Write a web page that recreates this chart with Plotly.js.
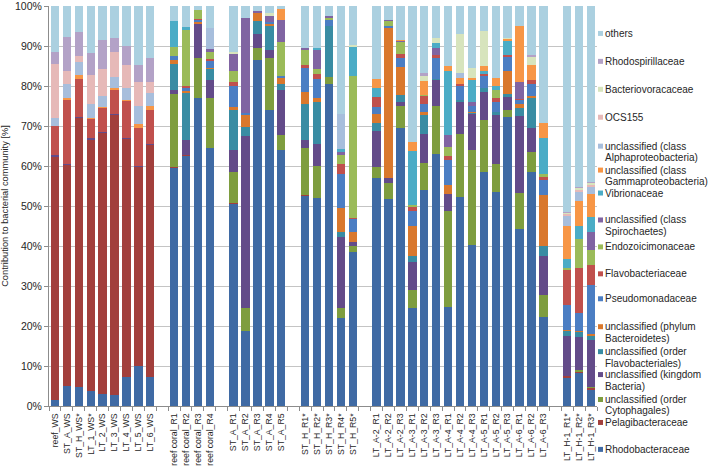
<!DOCTYPE html>
<html>
<head>
<meta charset="utf-8">
<script src="https://cdn.plot.ly/plotly-3.0.1.min.js"></script>
<style>html,body{margin:0;padding:0;background:#fff;}#chart{width:709px;height:470px;}</style>
</head>
<body>
<div id="chart"></div>
<script>
// ---- categories (groups separated by an empty slot on the axis) ----
const groupWS = ["reef_WS","ST_A_WS","ST_H_WS*","LT_1_WS*","LT_2_WS","LT_3_WS","LT_4_WS","LT_5_WS","LT_6_WS"];
const groupCoral = ["reef coral_R1","reef coral_R2","reef coral_R3","reef coral_R4"];
const groupSTA = ["ST_A_R1","ST_A_R2","ST_A_R3","ST_A_R4","ST_A_R5"];
const groupSTH = ["ST_H_R1*","ST_H_R2*","ST_H_R3*","ST_H_R4*","ST_H_R5*"];
const groupLTA = ["LT_A-2_R1","LT_A-2_R2","LT_A-2_R3","LT_A-3_R1","LT_A-3_R2","LT_A-3_R3","LT_A-4_R1","LT_A-4_R2","LT_A-4_R3","LT_A-5_R1","LT_A-5_R2","LT_A-5_R3","LT_A-6_R1","LT_A-6_R2","LT_A-6_R3"];
const groupLTH = ["LT_H-1_R1*","LT_H-1_R2*","LT_H-1_R3*"];

// ---- series (bottom of stack first), values in % per sample ----
const seriesNames = ["Rhodobacteraceae","Pelagibacteraceae","unclassified (order Cytophagales)","unclassified (kingdom Bacteria)","unclassified (order Flavobacteriales)","unclassified (phylum Bacteroidetes)","Pseudomonadaceae","Flavobacteriaceae","Endozoicimonaceae","unclassified (class Spirochaetes)","Vibrionaceae","unclassified (class Gammaproteobacteria)","unclassified (class Alphaproteobacteria)","OCS155","Bacteriovoracaceae","Rhodospirillaceae","others"];
const seriesColors = ["#3f6aa4","#a23f3c","#7e9d3f","#634b89","#398ca3","#d9782d","#4b7ec3","#c0504d","#9bbb59","#8064a2","#4bacc6","#f79646","#a7bedc","#e6b9b8","#d7e4bd","#b3a2c7","#abd0e0"];

const Rhodobacteraceae = [1.5,4.9,4.7,3.7,2.9,2.7,7.2,10.1,7.3, 59.4,62.5,77.0,64.4, 50.5,18.7,86.4,73.9,64.0, 52.5,51.9,80.4,22.0,38.6, 57.1,51.7,69.4,24.5,54.0,63.1,24.7,52.2,40.3,58.6,53.6,72.3,44.2,58.6,22.2, 7.0,8.3,4.1];
const Pelagibacteraceae = [60.8,55.3,67.2,62.9,65.3,70.1,59.6,49.7,58.0, 0.3,0.3,0,0.2, 0.3,0,0,0,0, 0.3,0,0,0,0, 0,0,0,0,0,0,0,0,0,0,0,0,0,0,0, 0.5,0.3,0.4];
const Cytophagales = [0,0,0,0,0,0,0,0,0, 18.2,0,10.1,12.5, 7.6,5.8,3.2,13.2,3.7, 11.6,8.1,1.9,2.5,1.3, 2.7,4.1,5.5,4.6,6.8,11.8,24.1,15.9,23.8,13.0,7.0,1.8,9.0,4.9,5.6, 0,0.3,0.2];
const KingdomBacteria = [0.4,0.3,0.3,0.4,0.3,0.3,0.3,0.3,0.3, 1.1,3.8,8.5,4.4, 5.7,43.0,3.5,1.8,11.3, 2.2,5.4,0,17.7,1.2, 9.0,1.1,1.1,6.8,7.3,6.5,4.1,7.9,8.8,6.9,12.1,3.2,19.3,6.1,9.7, 9.9,8.3,11.9];
const Flavobacteriales = [0,0,0,0,0,0,0,0,0, 6.4,11.7,0,2.7, 9.8,2.3,3.1,6.2,1.6, 9.0,10.6,12.8,1.2,0, 2.0,0,1.7,1.6,4.6,0.4,0,0.6,0.4,0.9,0.8,0.7,2.1,7.5,2.5, 1.3,1.2,1.0];
const Bacteroidetes = [0,0,0,0,0,0,0,0,0, 1.0,0.5,0.4,0.4, 0.9,2.9,2.0,0.4,1.5, 2.9,0.9,0,6.0,2.5, 2.3,37.7,7.0,7.5,0.8,0,2.3,0,0.3,0,0,5.7,0.8,0.5,12.8, 0.3,0.3,0.4];
const Pseudomonadaceae = [0,0,0,0,0,0,0,0,0, 1.0,0.7,0.5,1.7, 5.1,0.5,0,0.4,0.4, 6.0,4.8,1.4,8.6,3.2, 1.7,0.5,2.4,3.8,2.1,5.3,6.4,3.3,1.3,3.0,2.5,3.5,1.0,2.8,3.7, 6.3,4.5,12.3];
const Flavobacteriaceae = [7.3,16.1,9.5,4.7,5.9,5.9,9.1,9.3,8.5, 0,0.6,0.3,0.4, 1.1,0,0,0,0, 0.7,1.2,0,2.5,0.3, 2.5,0,1.0,0.9,1.8,0.6,0.8,0.6,0,0.5,0.9,0.6,0.4,1.2,0.8, 8.6,11.3,5.0];
const Endozoicimonaceae = [0,0,0,0,0,0,0,0,0, 2.3,13.8,2.2,1.7, 2.7,0,0,0,8.5, 3.9,1.4,0.6,2.3,35.3, 0,1.2,2.9,0.6,0.4,0,2.4,0,0,0,2.2,0,0,0,0.6, 0.6,7.3,3.7];
const Spirochaetes = [0,0,0,0,0,0,0,0,0, 0,0,0,0.8, 4.4,23.8,0.6,1.5,5.4, 0.3,4.8,0.5,0.8,0, 0,0.3,0.3,0,0,1.9,2.9,0,1.2,0,0,0,4.2,0,0, 0,0,4.6];
const Vibrionaceae = [0,0,0,0,0,0,0,0,0, 6.5,0.8,0,0, 0,0,0,0,0, 0,0.3,0,0.6,7.3, 2.3,0,0,13.5,0,1.2,16.0,0,5.4,0.8,0.9,3.4,0,0,9.2, 2.2,3.2,3.6];
const Gammaproteobacteria = [0,0.3,1.0,0.3,0.4,0.4,0.4,1.2,0.8, 0,0,0,0, 0,0,0,0,2.9, 0,0,0,0,0, 2.2,0,0.3,2.2,3.4,0,1.2,1.6,0.4,1.2,2.1,0.6,14.1,3.6,3.7, 8.3,6.3,5.8];
const Alphaproteobacteria = [2.1,3.7,3.3,3.4,2.6,2.9,2.8,4.3,3.4, 0,0,0,5.2, 0,0,0,0,0, 0,0,0,8.9,0, 0,0,0,0,0,0,0,1.1,0,0,0,0,0,0,0, 2.5,2.3,1.7];
const OCS155 = [13.3,3.1,1.4,7.4,6.9,6.2,5.8,6.1,2.7, 0,0,0,0, 0,0,0,0,0, 0,0,0,0,0, 0,0,0,0,0,0,0,0,0,0,0,0,0,0,0, 0.4,0.5,0.5];
const Bacteriovoracaceae = [0,0,0,0,0,0,0,0,0, 0,0,0,0, 0.4,0,0,0.8,0, 0,0,0,0,0.6, 0,0,0,0,1.2,1.3,0,9.9,2.6,8.8,0,0.3,0,2.0,0, 0.4,0.4,0.5];
const Rhodospirillaceae = [3.1,8.5,6.1,5.4,7.3,3.6,4.7,4.2,6.1, 0,0,0,0, 0,0,0,0,0, 0,0,0,0,0, 0,0,0,0,0.8,0,0,0,0,0,0,0,0,0.5,0, 0.3,0.3,0.4];
const others = [11.5,7.8,6.5,11.8,8.4,7.9,10.1,14.8,12.9, 3.8,5.3,1.0,5.6, 11.5,3.0,1.2,1.8,0.7, 10.6,10.6,2.4,26.9,9.7, 18.2,3.4,8.4,34.0,16.8,7.9,15.1,6.9,15.5,6.3,17.9,7.9,4.9,12.3,29.2, 51.4,45.2,43.9];

const seriesValues = [Rhodobacteraceae,Pelagibacteraceae,Cytophagales,KingdomBacteria,Flavobacteriales,Bacteroidetes,Pseudomonadaceae,Flavobacteriaceae,Endozoicimonaceae,Spirochaetes,Vibrionaceae,Gammaproteobacteria,Alphaproteobacteria,OCS155,Bacteriovoracaceae,Rhodospirillaceae,others];

// legend layout (pixel centre of the first text line, top entry = others)
const legendLineY = [33,61,89,117,146,170,193,220,247,274,299,327,352,375,400,423,450];
const legendLineGap = 11.5;

// ---- build axis with empty gap slots between groups ----
const groups = [groupWS, groupCoral, groupSTA, groupSTH, groupLTA, groupLTH];
const xCats = [];
const isGap = [];
groups.forEach((g, gi) => {
  if (gi > 0) { xCats.push(" ".repeat(gi)); isGap.push(true); }
  g.forEach(c => { xCats.push(c); isGap.push(false); });
});

const traces = seriesNames.map((name, si) => {
  let k = 0;
  const y = xCats.map((c, i) => isGap[i] ? null : seriesValues[si][k++]);
  return {
    type: "bar", name: name, x: xCats, y: y,
    marker: {color: seriesColors[si], line: {width: 0}},
    showlegend: false,
    hovertemplate: "%{x}<br>" + name + ": %{y}%<extra></extra>"
  };
});

// plot area in pixels
const W = 709, H = 470;
const L = 49, R = 597, T = 5.5, B = 406.5;
const px2x = p => (p - L) / (R - L);
const px2y = p => (B - p) / (B - T);
const FONT = "Liberation Sans, Arial, sans-serif";

const annotations = [];
const shapes = [];
const legendOrder = seriesNames.map((n, i) => i).reverse();
legendOrder.forEach((si, li) => {
  const name = seriesNames[si];
  let lines = [name];
  if (name.indexOf("unclassified (") === 0) {
    const cut = name.lastIndexOf(" ");
    lines = [name.slice(0, cut), name.slice(cut + 1)];
  }
  const yFirst = legendLineY[li];
  lines.forEach((txt, j) => {
    annotations.push({
      xref: "paper", yref: "paper", x: px2x(603), y: px2y(yFirst + j * legendLineGap),
      xanchor: "left", yanchor: "middle", align: "left", showarrow: false,
      text: txt, font: {family: FONT, size: 10, color: "#262626"}
    });
  });
  shapes.push({
    type: "rect", xref: "paper", yref: "paper",
    x0: px2x(598), x1: px2x(603), y0: px2y(yFirst + 2.5), y1: px2y(yFirst - 2.5),
    fillcolor: seriesColors[si], line: {width: 0}
  });
});

const layout = {
  width: W, height: H,
  margin: {l: L, r: W - R, t: T, b: H - B, pad: 0},
  paper_bgcolor: "#ffffff", plot_bgcolor: "#ffffff",
  barmode: "stack", bargap: 0.3,
  showlegend: false,
  font: {family: FONT, color: "#262626"},
  xaxis: {
    type: "category", categoryorder: "array", categoryarray: xCats,
    tickangle: -90, tickson: "boundaries", ticks: "outside", ticklen: 4,
    tickcolor: "#8c8c8c", tickwidth: 1, ticklabelstandoff: 3,
    showline: true, linecolor: "#8c8c8c", linewidth: 1,
    showgrid: false, zeroline: false, fixedrange: true,
    tickfont: {family: FONT, size: 8.7, color: "#262626"}
  },
  yaxis: {
    range: [0, 100], dtick: 10, ticksuffix: "%",
    ticklabeloverflow: "allow",
    showgrid: true, gridcolor: "#c4c4c4", gridwidth: 1,
    showline: true, linecolor: "#8c8c8c", linewidth: 1,
    ticks: "outside", ticklen: 4, tickcolor: "#8c8c8c",
    zeroline: false, fixedrange: true,
    tickfont: {family: FONT, size: 10.5, color: "#262626"},
    title: {text: "Contribution to bacterial community [%]", standoff: 4,
            font: {family: FONT, size: 9.3, color: "#262626"}}
  },
  annotations: annotations,
  shapes: shapes
};

Plotly.newPlot("chart", traces, layout, {displayModeBar: false, staticPlot: true});
</script>
</body>
</html>
